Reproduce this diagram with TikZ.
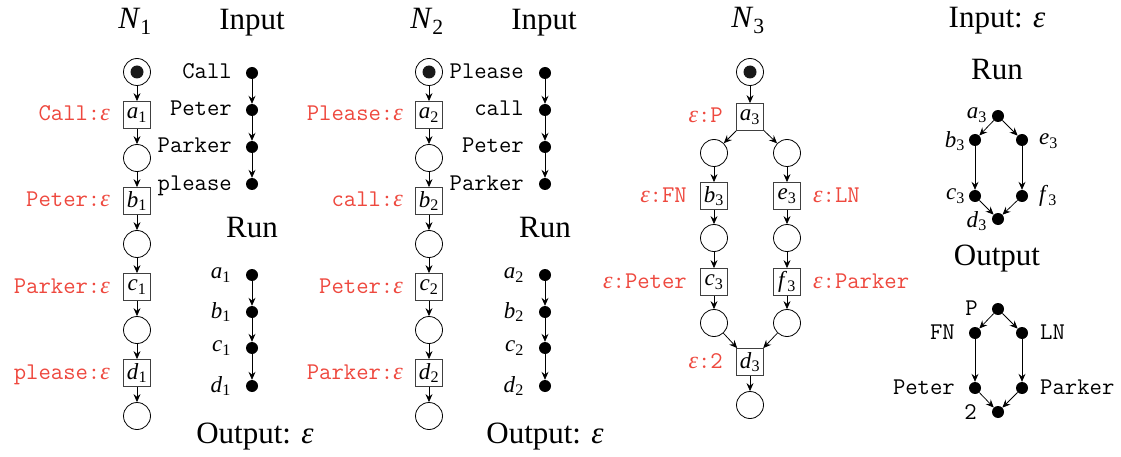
\documentclass[tikz,border=0pt]{standalone}
\usepackage{fontspec}
\setmainfont{Liberation Serif}
\usetikzlibrary{arrows.meta}
\definecolor{lred}{RGB}{238,72,62}
\newcommand\ix[2]{\textit{#1}\textsubscript{#2}}
\newcommand\veps{{\rmfamily\itshape\fontsize{24}{24}\selectfont ε}}
\newcommand\tveps{{\itshape ε}}
\begin{document}
\begin{tikzpicture}[x=1pt,y=-1pt,
  every node/.style={inner sep=0pt},
  place/.style={circle,draw,minimum size=27pt,line width=0.8pt},
  initplace/.style={place,path picture={\fill[black!90] (path picture bounding box.center) circle (6.5pt);}},
  trans/.style={rectangle,draw=black!75,minimum size=27pt,line width=0.8pt,font=\fontsize{23}{25}\selectfont},
  dot/.style={circle,fill,minimum size=12pt},
  arc/.style={-{Stealth[length=8pt,width=7pt,inset=2.8pt]},line width=0.75pt},
  title/.style={font=\fontsize{31}{34}\selectfont,anchor=base},
  mono/.style={font=\fontsize{24}{26}\selectfont\ttfamily,text height=12pt,text depth=0pt},
  rlab/.style={mono,text=lred},
  ital/.style={font=\fontsize{23}{25}\selectfont}
]
\useasboundingbox (0,0) rectangle (1121,457);

% ---------------- N1 ----------------
\node[title] (t1) at (135,29) {\ix{N}{1}};
\node[initplace] (n1p0) at (137,72) {};
\node[trans] (a1) at (137,115) {\ix{a}{1}};
\node[place] (n1p1) at (137,158) {};
\node[trans] (b1) at (137,201) {\ix{b}{1}};
\node[place] (n1p2) at (137,244) {};
\node[trans] (c1) at (137,287) {\ix{c}{1}};
\node[place] (n1p3) at (137,330) {};
\node[trans] (d1) at (137,373) {\ix{d}{1}};
\node[place] (n1p4) at (137,416) {};
\draw[arc] (n1p0)--(a1);
\draw[arc] (a1)--(n1p1);
\draw[arc] (n1p1)--(b1);
\draw[arc] (b1)--(n1p2);
\draw[arc] (n1p2)--(c1);
\draw[arc] (c1)--(n1p3);
\draw[arc] (n1p3)--(d1);
\draw[arc] (d1)--(n1p4);
\node[rlab,anchor=east] (la1) at (110,115) {Call:\veps};
\node[rlab,anchor=east] (lb1) at (110,201) {Peter:\veps};
\node[rlab,anchor=east] (lc1) at (110,287) {Parker:\veps};
\node[rlab,anchor=east] (ld1) at (110,373) {please:\veps};

\node[title] (in1) at (252,30) {Input};
\node[dot] (i1a) at (252,73) {};
\node[dot] (i1b) at (252,110) {};
\node[dot] (i1c) at (252,147) {};
\node[dot] (i1d) at (252,184) {};
\draw[arc] (i1a)--(i1b);
\draw[arc] (i1b)--(i1c);
\draw[arc] (i1c)--(i1d);
\node[mono,anchor=east] (li1a) at (232,73) {Call};
\node[mono,anchor=east] (li1b) at (232,110) {Peter};
\node[mono,anchor=east] (li1c) at (232,147) {Parker};
\node[mono,anchor=east] (li1d) at (232,184) {please};

\node[title] (run1) at (252,237) {Run};
\node[dot] (r1a) at (252,275) {};
\node[dot] (r1b) at (252,312) {};
\node[dot] (r1c) at (252,348) {};
\node[dot] (r1d) at (252,386) {};
\draw[arc] (r1a)--(r1b);
\draw[arc] (r1b)--(r1c);
\draw[arc] (r1c)--(r1d);
\node[ital,anchor=east] (lr1a) at (231,275) {\ix{a}{1}};
\node[ital,anchor=east] (lr1b) at (231,312) {\ix{b}{1}};
\node[ital,anchor=east] (lr1c) at (231,348) {\ix{c}{1}};
\node[ital,anchor=east] (lr1d) at (231,386) {\ix{d}{1}};
\node[title] (out1) at (255,443) {Output: \tveps};

% ---------------- N2 ----------------
\node[title] (t2) at (427,29) {\ix{N}{2}};
\node[initplace] (n2p0) at (429,72) {};
\node[trans] (a2) at (429,115) {\ix{a}{2}};
\node[place] (n2p1) at (429,158) {};
\node[trans] (b2) at (429,201) {\ix{b}{2}};
\node[place] (n2p2) at (429,244) {};
\node[trans] (c2) at (429,287) {\ix{c}{2}};
\node[place] (n2p3) at (429,330) {};
\node[trans] (d2) at (429,373) {\ix{d}{2}};
\node[place] (n2p4) at (429,416) {};
\draw[arc] (n2p0)--(a2);
\draw[arc] (a2)--(n2p1);
\draw[arc] (n2p1)--(b2);
\draw[arc] (b2)--(n2p2);
\draw[arc] (n2p2)--(c2);
\draw[arc] (c2)--(n2p3);
\draw[arc] (n2p3)--(d2);
\draw[arc] (d2)--(n2p4);
\node[rlab,anchor=east] (la2) at (403,115) {Please:\veps};
\node[rlab,anchor=east] (lb2) at (403,201) {call:\veps};
\node[rlab,anchor=east] (lc2) at (403,287) {Peter:\veps};
\node[rlab,anchor=east] (ld2) at (403,373) {Parker:\veps};

\node[title] (in2) at (544,30) {Input};
\node[dot] (i2a) at (545,73) {};
\node[dot] (i2b) at (545,110) {};
\node[dot] (i2c) at (545,147) {};
\node[dot] (i2d) at (545,184) {};
\draw[arc] (i2a)--(i2b);
\draw[arc] (i2b)--(i2c);
\draw[arc] (i2c)--(i2d);
\node[mono,anchor=east] (li2a) at (524,73) {Please};
\node[mono,anchor=east] (li2b) at (524,110) {call};
\node[mono,anchor=east] (li2c) at (524,147) {Peter};
\node[mono,anchor=east] (li2d) at (524,184) {Parker};

\node[title] (run2) at (545,237) {Run};
\node[dot] (r2a) at (545,275) {};
\node[dot] (r2b) at (545,312) {};
\node[dot] (r2c) at (545,348) {};
\node[dot] (r2d) at (545,386) {};
\draw[arc] (r2a)--(r2b);
\draw[arc] (r2b)--(r2c);
\draw[arc] (r2c)--(r2d);
\node[ital,anchor=east] (lr2a) at (524,275) {\ix{a}{2}};
\node[ital,anchor=east] (lr2b) at (524,312) {\ix{b}{2}};
\node[ital,anchor=east] (lr2c) at (524,348) {\ix{c}{2}};
\node[ital,anchor=east] (lr2d) at (524,386) {\ix{d}{2}};
\node[title] (out2) at (545,443) {Output: \tveps};

% ---------------- N3 ----------------
\node[title] (t3) at (748,28) {\ix{N}{3}};
\node[initplace] (n3p0) at (750,72) {};
\node[trans] (a3) at (750,117) {\ix{a}{3}};
\node[place] (n3l1) at (714,153) {};
\node[place] (n3r1) at (787,153) {};
\node[trans] (b3) at (714,196) {\ix{b}{3}};
\node[trans] (e3) at (787,196) {\ix{e}{3}};
\node[place] (n3l2) at (714,238) {};
\node[place] (n3r2) at (787,238) {};
\node[trans] (c3) at (714,282) {\ix{c}{3}};
\node[trans] (f3) at (787,282) {\ix{f}{3}};
\node[place] (n3l3) at (714,323) {};
\node[place] (n3r3) at (787,323) {};
\node[trans] (d3) at (750,362) {\ix{d}{3}};
\node[place] (n3p4) at (750,405) {};
\draw[arc] (n3p0)--(a3);
\draw[arc] (a3)--(n3l1);
\draw[arc] (a3)--(n3r1);
\draw[arc] (n3l1)--(b3);
\draw[arc] (n3r1)--(e3);
\draw[arc] (b3)--(n3l2);
\draw[arc] (e3)--(n3r2);
\draw[arc] (n3l2)--(c3);
\draw[arc] (n3r2)--(f3);
\draw[arc] (c3)--(n3l3);
\draw[arc] (f3)--(n3r3);
\draw[arc] (n3l3)--(d3);
\draw[arc] (n3r3)--(d3);
\draw[arc] (d3)--(n3p4);
\node[rlab,anchor=east] (la3) at (723,117) {\veps:P};
\node[rlab,anchor=east] (lb3) at (687,196) {\veps:FN};
\node[rlab,anchor=east] (lc3) at (687,282) {\veps:Peter};
\node[rlab,anchor=west] (le3) at (813,196) {\veps:LN};
\node[rlab,anchor=west] (lf3) at (813,282) {\veps:Parker};
\node[rlab,anchor=east] (ld3) at (723,362) {\veps:2};

% ---------------- right column ----------------
\node[title] (in3) at (997,28) {Input: \tveps};
\node[title] (run3) at (997,80) {Run};
\node[dot] (ra3) at (998,116) {};
\node[dot] (rb3) at (975,140) {};
\node[dot] (re3) at (1022,140) {};
\node[dot] (rc3) at (975,196) {};
\node[dot] (rf3) at (1022,196) {};
\node[dot] (rd3) at (998,219) {};
\draw[arc] (ra3)--(rb3);
\draw[arc] (ra3)--(re3);
\draw[arc] (rb3)--(rc3);
\draw[arc] (re3)--(rf3);
\draw[arc] (rc3)--(rd3);
\draw[arc] (rf3)--(rd3);
\node[ital,anchor=east] (lra3) at (987,115) {\ix{a}{3}};
\node[ital,anchor=east] (lrb3) at (965,141) {\ix{b}{3}};
\node[ital,anchor=west] (lre3) at (1039,141) {\ix{e}{3}};
\node[ital,anchor=east] (lrc3) at (965,196) {\ix{c}{3}};
\node[ital,anchor=west] (lrf3) at (1039,196) {\ix{f}{3}};
\node[ital,anchor=east] (lrd3) at (987,221) {\ix{d}{3}};

\node[title] (out3) at (997,265) {Output};
\node[dot] (oP) at (998,309) {};
\node[dot] (oFN) at (975,333) {};
\node[dot] (oLN) at (1022,333) {};
\node[dot] (oPe) at (975,388) {};
\node[dot] (oPa) at (1022,388) {};
\node[dot] (o2) at (998,412) {};
\draw[arc] (oP)--(oFN);
\draw[arc] (oP)--(oLN);
\draw[arc] (oFN)--(oPe);
\draw[arc] (oLN)--(oPa);
\draw[arc] (oPe)--(o2);
\draw[arc] (oPa)--(o2);
\node[mono,anchor=east] (loP) at (978,309) {P};
\node[mono,anchor=east] (loFN) at (955,333) {FN};
\node[mono,anchor=west] (loLN) at (1040,333) {LN};
\node[mono,anchor=east] (loPe) at (955,388) {Peter};
\node[mono,anchor=west] (loPa) at (1040,388) {Parker};
\node[mono,anchor=east] (lo2) at (977,413) {2};
\end{tikzpicture}
\end{document}
